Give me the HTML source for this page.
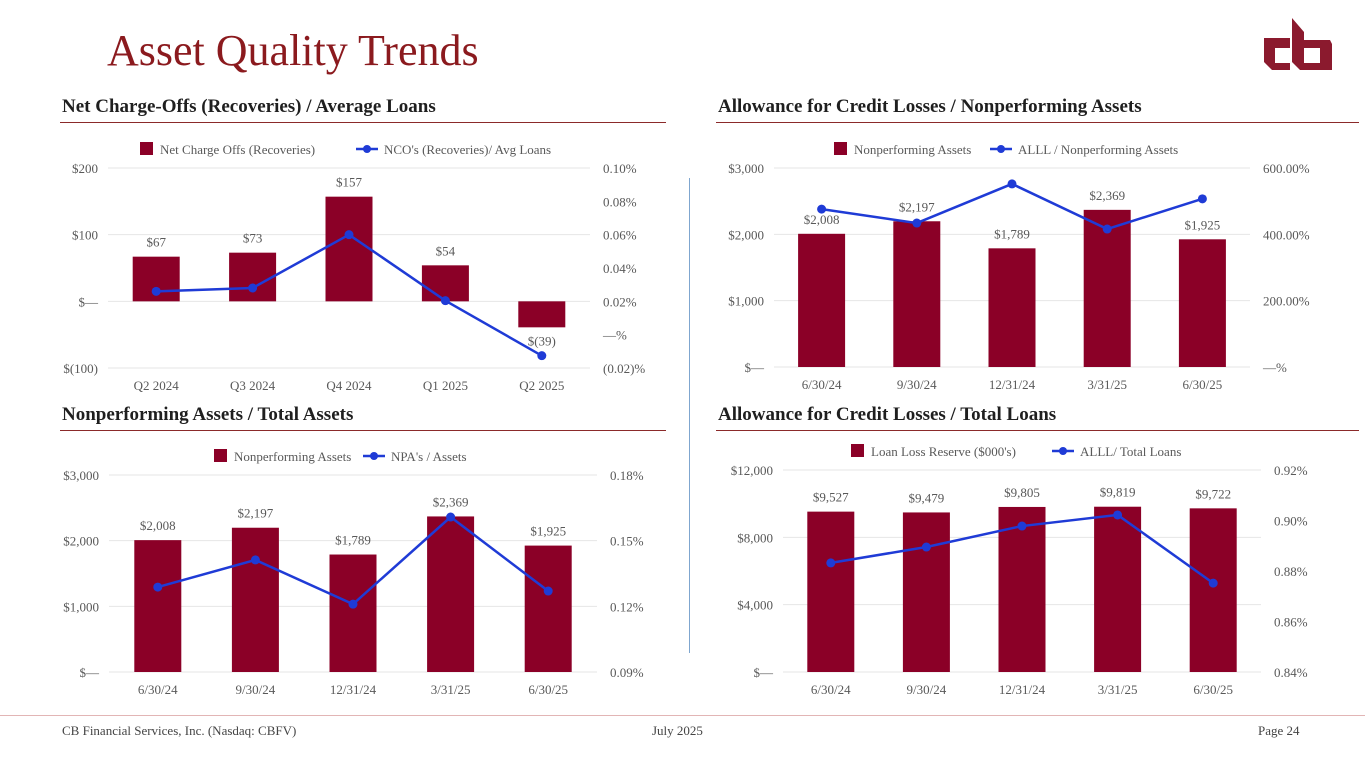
<!DOCTYPE html>
<html><head><meta charset="utf-8">
<style>
body{margin:0;width:1365px;height:768px;background:#fff;overflow:hidden;position:relative;font-family:"Liberation Serif",serif;}
.abs{position:absolute;}
h1{position:absolute;left:107px;top:25px;margin:0;font-weight:normal;font-size:44px;color:#8b1a1e;font-family:"Liberation Serif",serif;}
.sec{position:absolute;font-weight:bold;font-size:19px;color:#1f1f1f;}
.rule{position:absolute;height:1px;background:#8b2a2a;}
.foot{position:absolute;top:723px;font-size:13px;color:#444;}
svg text{font-family:"Liberation Serif",serif;fill:#595959;}
</style></head><body>
<h1>Asset Quality Trends</h1>
<svg class="abs" style="left:1262px;top:18px" width="72" height="60" viewBox="0 0 72 60">
<path d="M2 20 H28 V30 H13 V45 H28 V52 H10 L2 44 Z" fill="#8b1a2e"/>
<path d="M30 0 L42 14 V22 H68 L70 26 V52 H38 L30 44 Z M42 30 V45 H58 V30 Z" fill="#8b1a2e" fill-rule="evenodd"/>
</svg>
<div class="sec" style="left:62px;top:96px">Net Charge-Offs (Recoveries) / Average Loans</div>
<div class="rule" style="left:60px;top:122px;width:606px"></div>
<div class="sec" style="left:718px;top:96px">Allowance for Credit Losses / Nonperforming Assets</div>
<div class="rule" style="left:716px;top:122px;width:643px"></div>
<div class="sec" style="left:62px;top:404px">Nonperforming Assets / Total Assets</div>
<div class="rule" style="left:60px;top:430px;width:606px"></div>
<div class="sec" style="left:718px;top:404px">Allowance for Credit Losses / Total Loans</div>
<div class="rule" style="left:716px;top:430px;width:643px"></div>
<div class="abs" style="left:689px;top:178px;width:1px;height:475px;background:#7fa6cf"></div>
<div class="abs" style="left:0;top:715px;width:1365px;height:1px;background:#e2b5b5"></div>
<div class="foot" style="left:62px">CB Financial Services, Inc. (Nasdaq: CBFV)</div>
<div class="foot" style="left:652px">July 2025</div>
<div class="foot" style="left:1258px">Page 24</div>
<svg id="chart" class="abs" style="left:0;top:0" width="1365" height="768"></svg>
<script>
// Chart 1: NCO
const c1Cats=["Q2 2024","Q3 2024","Q4 2024","Q1 2025","Q2 2025"];
const c1Bars=[67,73,157,54,-39];
const c1BarLabels=["$67","$73","$157","$54","$(39)"];
const c1Line=[0.026,0.028,0.060,0.0204,-0.0126];
const c1LTicks=["$(100)","$—","$100","$200"];
const c1RTicks=["(0.02)%","—%","0.02%","0.04%","0.06%","0.08%","0.10%"];
// Chart 2: ACL / NPA
const c2Cats=["6/30/24","9/30/24","12/31/24","3/31/25","6/30/25"];
const c2Bars=[2008,2197,1789,2369,1925];
const c2BarLabels=["$2,008","$2,197","$1,789","$2,369","$1,925"];
const c2Line=[476,434,552,416,507];
const c2LTicks=["$—","$1,000","$2,000","$3,000"];
const c2RTicks=["—%","200.00%","400.00%","600.00%"];
// Chart 3: NPA / Assets
const c3Cats=["6/30/24","9/30/24","12/31/24","3/31/25","6/30/25"];
const c3Bars=[2008,2197,1789,2369,1925];
const c3BarLabels=["$2,008","$2,197","$1,789","$2,369","$1,925"];
const c3Line=[0.1288,0.1412,0.121,0.1608,0.127];
const c3LTicks=["$—","$1,000","$2,000","$3,000"];
const c3RTicks=["0.09%","0.12%","0.15%","0.18%"];
// Chart 4: ACL / Loans
const c4Cats=["6/30/24","9/30/24","12/31/24","3/31/25","6/30/25"];
const c4Bars=[9527,9479,9805,9819,9722];
const c4BarLabels=["$9,527","$9,479","$9,805","$9,819","$9,722"];
const c4Line=[0.8832,0.8895,0.8978,0.9022,0.8752];
const c4LTicks=["$—","$4,000","$8,000","$12,000"];
const c4RTicks=["0.84%","0.86%","0.88%","0.90%","0.92%"];

const NS="http://www.w3.org/2000/svg";
const svg=document.getElementById('chart');
function el(tag,attrs,parent){const e=document.createElementNS(NS,tag);for(const k in attrs)e.setAttribute(k,attrs[k]);(parent||svg).appendChild(e);return e;}
function txt(x,y,s,anchor,parent,size){const t=el('text',{x:x,y:y,'text-anchor':anchor,'font-size':size||13},parent);t.textContent=s;return t;}

function draw(id,cfg,cats,bars,labels,line,lt,rt){
  const g=el('g',{});
  
  
  const yL=v=>cfg.bot-(v-cfg.lmin)/(cfg.lmax-cfg.lmin)*(cfg.bot-cfg.top);
  const yR=v=>cfg.bot-(v-cfg.rmin)/(cfg.rmax-cfg.rmin)*(cfg.bot-cfg.top);
  const step=(cfg.x1-cfg.x0)/cats.length;
  const xC=i=>cfg.x0+step*(i+0.5);
  lt.forEach((s,i)=>{const y=cfg.bot-i*(cfg.bot-cfg.top)/(lt.length-1);
    const l=el('line',{x1:cfg.x0,x2:cfg.x1,y1:y,y2:y,stroke:'#e6e6e6','stroke-width':1},g);
    
    const t=txt(cfg.x0-10,y+5,s,'end',g);});
  rt.forEach((s,i)=>{const y=cfg.bot-i*(cfg.bot-cfg.top)/(rt.length-1);
    const t=txt(cfg.x1+13,y+5,s,'start',g);});
  const z=yL(Math.max(cfg.lmin,0));
  bars.forEach((v,i)=>{const y=yL(v);const x=xC(i)-23.5;
    const r=el('rect',{x:x,y:Math.min(y,z),width:47,height:Math.abs(z-y),fill:'#8b0027'},g);
    
    const ly=v>=0?y-10:yR(line[i])-10;
    const t=txt(xC(i),ly,labels[i],'middle',g);
    const c=txt(xC(i),cfg.bot+22,cats[i],'middle',g);});
  const pts=line.map((v,i)=>xC(i)+','+yR(v)).join(' ');
  const pl=el('polyline',{points:pts,fill:'none',stroke:'#1f3bd6','stroke-width':2.5},g);
  
  line.forEach((v,i)=>{const c=el('circle',{cx:xC(i),cy:yR(v),r:4.5,fill:'#1f3bd6'},g);
    });
  const lg=el('g',{},g);
  
  const lx=cfg.legX,ly=cfg.top-19;
  el('rect',{x:lx,y:ly-7,width:13,height:13,fill:'#8b0027'},lg);
  txt(lx+20,ly+5,cfg.leg1,'start',lg);
  const l2=cfg.legX2;
  el('line',{x1:l2,x2:l2+22,y1:ly,y2:ly,stroke:'#1f3bd6','stroke-width':2.5},lg);
  el('circle',{cx:l2+11,cy:ly,r:4,fill:'#1f3bd6'},lg);
  txt(l2+28,ly+5,cfg.leg2,'start',lg);
}
draw('nco-chart',{x0:108,x1:590,top:168,bot:368,lmin:-100,lmax:200,rmin:-0.02,rmax:0.10,legX:140,legX2:356,leg1:'Net Charge Offs (Recoveries)',leg2:"NCO's (Recoveries)/ Avg Loans"},c1Cats,c1Bars,c1BarLabels,c1Line,c1LTicks,c1RTicks);
draw('acl-npa-chart',{x0:774,x1:1250,top:168,bot:367,lmin:0,lmax:3000,rmin:0,rmax:600,legX:834,legX2:990,leg1:'Nonperforming Assets',leg2:'ALLL / Nonperforming Assets'},c2Cats,c2Bars,c2BarLabels,c2Line,c2LTicks,c2RTicks);
draw('npa-chart',{x0:109,x1:597,top:475,bot:672,lmin:0,lmax:3000,rmin:0.09,rmax:0.18,legX:214,legX2:363,leg1:'Nonperforming Assets',leg2:"NPA's / Assets"},c3Cats,c3Bars,c3BarLabels,c3Line,c3LTicks,c3RTicks);
draw('acl-loans-chart',{x0:783,x1:1261,top:470,bot:672,lmin:0,lmax:12000,rmin:0.84,rmax:0.92,legX:851,legX2:1052,leg1:"Loan Loss Reserve ($000's)",leg2:'ALLL/ Total Loans'},c4Cats,c4Bars,c4BarLabels,c4Line,c4LTicks,c4RTicks);
</script>
</body></html>
